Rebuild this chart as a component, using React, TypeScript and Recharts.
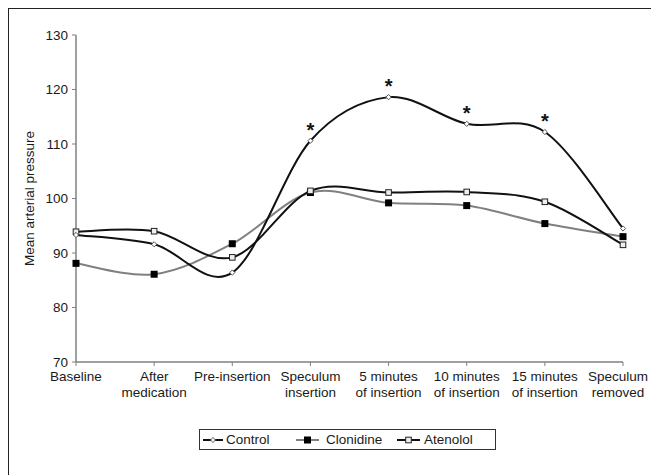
import React from 'react';
import { LineChart, Line, XAxis, YAxis, Legend, LabelList } from 'recharts';

const categories = [
  'Baseline',
  'After medication',
  'Pre-insertion',
  'Speculum insertion',
  '5 minutes of insertion',
  '10 minutes of insertion',
  '15 minutes of insertion',
  'Speculum removed',
];
const xTickLines = [
  ['Baseline'],
  ['After', 'medication'],
  ['Pre-insertion'],
  ['Speculum', 'insertion'],
  ['5 minutes', 'of insertion'],
  ['10 minutes', 'of insertion'],
  ['15 minutes', 'of insertion'],
  ['Speculum', 'removed'],
];
const control = [93.3, 91.6, 86.4, 110.6, 118.6, 113.7, 112.2, 94.5];
const clonidine = [88.1, 86.1, 91.7, 101.1, 99.2, 98.7, 95.4, 93.0];
const atenolol = [93.9, 94.0, 89.2, 101.4, 101.1, 101.2, 99.4, 91.5];
const significant = [false, false, false, true, true, true, true, false];
const yTicks = [70, 80, 90, 100, 110, 120, 130];

const data = categories.map((name, i) => ({
  name,
  Control: control[i],
  Clonidine: clonidine[i],
  Atenolol: atenolol[i],
  sig: significant[i] ? '*' : '',
}));

const FONT = '"Liberation Sans", Arial, Helvetica, sans-serif';

// Excel-like smoothed line (Catmull-Rom style Bezier)
const excelCurve: any = (context: any) => {
  let pts: number[][] = [];
  return {
    areaStart() {},
    areaEnd() {},
    lineStart() {
      pts = [];
    },
    point(x: number, y: number) {
      pts.push([+x, +y]);
    },
    lineEnd() {
      if (!pts.length) return;
      context.moveTo(pts[0][0], pts[0][1]);
      for (let i = 0; i < pts.length - 1; i++) {
        const p0 = pts[i - 1] || pts[i];
        const p1 = pts[i];
        const p2 = pts[i + 1];
        const p3 = pts[i + 2] || pts[i + 1];
        const c1x = p1[0] + (p2[0] - p0[0]) / 6;
        const c1y = p1[1] + (p2[1] - p0[1]) / 6;
        const c2x = p2[0] - (p3[0] - p1[0]) / 6;
        const c2y = p2[1] - (p3[1] - p1[1]) / 6;
        context.bezierCurveTo(c1x, c1y, c2x, c2y, p2[0], p2[1]);
      }
    },
  };
};

const DiamondDot = (props: any) => {
  const { cx, cy, index } = props;
  if (cx == null || cy == null) return <g key={`cd-${index}`} />;
  const s = 2.6;
  return (
    <path
      key={`cd-${index}`}
      d={`M${cx},${cy - s}L${cx + s},${cy}L${cx},${cy + s}L${cx - s},${cy}Z`}
      fill="#fff"
      stroke="#555"
      strokeWidth={1}
    />
  );
};

const FilledSquare = (props: any) => {
  const { cx, cy, index } = props;
  if (cx == null || cy == null) return <g key={`cl-${index}`} />;
  return <rect key={`cl-${index}`} x={cx - 3.5} y={cy - 3.5} width={7} height={7} fill="#000" />;
};

const OpenSquare = (props: any) => {
  const { cx, cy, index } = props;
  if (cx == null || cy == null) return <g key={`at-${index}`} />;
  return (
    <rect
      key={`at-${index}`}
      x={cx - 2.8}
      y={cy - 2.8}
      width={5.6}
      height={5.6}
      fill="#eee"
      stroke="#222"
      strokeWidth={1}
    />
  );
};

const XTick = (props: any) => {
  const { x, y, index } = props;
  const lines = xTickLines[index] || [];
  const tx = index === xTickLines.length - 1 ? x - 5 : x;
  return (
    <text x={tx} y={y} textAnchor="middle" fill="#1a1a1a" fontSize={13.5} fontFamily={FONT}>
      {lines.map((l, i) => (
        <tspan key={i} x={tx} dy={i === 0 ? 13 : 16}>
          {l}
        </tspan>
      ))}
    </text>
  );
};

const Asterisk = (props: any) => {
  const { x, y, value } = props;
  if (!value) return null;
  return (
    <text x={x} y={y - 4} textAnchor="middle" fontSize={20} fontWeight="bold" fill="#111" fontFamily={FONT}>
      {value}
    </text>
  );
};

const LegendIcon = ({ kind }: { kind: string }) => {
  const w = kind === 'Control' ? 20 : 23;
  const mid = w / 2;
  return (
    <svg width={w} height={10} style={{ display: 'block' }}>
      <line
        x1={0}
        y1={5}
        x2={w}
        y2={5}
        stroke={kind === 'Clonidine' ? '#808080' : '#111'}
        strokeWidth={2}
      />
      {kind === 'Control' && (
        <path d={`M${mid},2.5L${mid + 2.5},5L${mid},7.5L${mid - 2.5},5Z`} fill="#fff" stroke="#555" />
      )}
      {kind === 'Clonidine' && <rect x={mid - 3.5} y={1.5} width={7} height={7} fill="#000" />}
      {kind === 'Atenolol' && (
        <rect x={mid - 2.8} y={2.2} width={5.6} height={5.6} fill="#eee" stroke="#222" />
      )}
    </svg>
  );
};

const legendItems = [
  { name: 'Control', icon: 4, text: 27 },
  { name: 'Clonidine', icon: 97, text: 127 },
  { name: 'Atenolol', icon: 198, text: 225 },
];

const CustomLegend = () => (
  <div
    style={{
      position: 'relative',
      width: 297,
      height: 21,
      border: '1px solid #333',
      boxSizing: 'border-box',
      fontFamily: FONT,
      fontSize: 13.5,
      color: '#1a1a1a',
      background: '#fff',
    }}
  >
    {legendItems.map((it) => (
      <React.Fragment key={it.name}>
        <div style={{ position: 'absolute', left: it.icon - 1, top: 5 }}>
          <LegendIcon kind={it.name} />
        </div>
        <div style={{ position: 'absolute', left: it.text - 1, top: 1, lineHeight: '17px', whiteSpace: 'nowrap' }}>
          {it.name}
        </div>
      </React.Fragment>
    ))}
  </div>
);

export default function App() {
  return (
    <div
      style={{
        position: 'fixed',
        left: 8,
        top: 8,
        width: 643,
        height: 467,
        overflow: 'hidden',
        background: '#fff',
      }}
    >
      <div
        style={{
          position: 'absolute',
          left: 0,
          top: 0,
          width: 720,
          height: 560,
          borderLeft: '1px solid #222',
          borderTop: '1px solid #222',
          boxSizing: 'border-box',
          pointerEvents: 'none',
        }}
      />
      <LineChart
        width={643}
        height={467}
        data={data}
        margin={{ top: 27, right: 28, bottom: 73, left: 8 }}
        style={{ position: 'absolute', left: 0, top: 0 }}
      >
        <XAxis
          dataKey="name"
          interval={0}
          scale="point"
          padding={{ left: 0, right: 0 }}
          height={40}
          tick={<XTick />}
          tickSize={4}
          tickMargin={2}
          axisLine={{ stroke: '#808080', strokeWidth: 1.5 }}
          tickLine={{ stroke: '#808080', strokeWidth: 1 }}
        />
        <YAxis
          width={60}
          domain={[70, 130]}
          ticks={yTicks}
          interval={0}
          tickSize={4}
          tickMargin={4}
          axisLine={{ stroke: '#808080', strokeWidth: 1.5 }}
          tickLine={{ stroke: '#808080', strokeWidth: 1 }}
          tick={{ fill: '#1a1a1a', fontSize: 13.5, fontFamily: FONT }}
          label={{
            value: 'Mean arterial pressure',
            angle: -90,
            position: 'center',
            dx: -17,
            style: { fill: '#1a1a1a', fontSize: 13.5, fontFamily: FONT },
          }}
        />
        <Legend
          layout="horizontal"
          verticalAlign="middle"
          align="center"
          content={<CustomLegend />}
          wrapperStyle={{ position: 'absolute', left: 191, top: 421, width: 297, height: 21 }}
        />
        <Line
          dataKey="Clonidine"
          type={excelCurve}
          stroke="#808080"
          strokeWidth={2}
          dot={FilledSquare}
          activeDot={false}
          isAnimationActive={false}
        />
        <Line
          dataKey="Atenolol"
          type={excelCurve}
          stroke="#111"
          strokeWidth={2}
          dot={OpenSquare}
          activeDot={false}
          isAnimationActive={false}
        />
        <Line
          dataKey="Control"
          type={excelCurve}
          stroke="#111"
          strokeWidth={2}
          dot={DiamondDot}
          activeDot={false}
          isAnimationActive={false}
        >
          <LabelList dataKey="sig" content={<Asterisk />} />
        </Line>
      </LineChart>
    </div>
  );
}
